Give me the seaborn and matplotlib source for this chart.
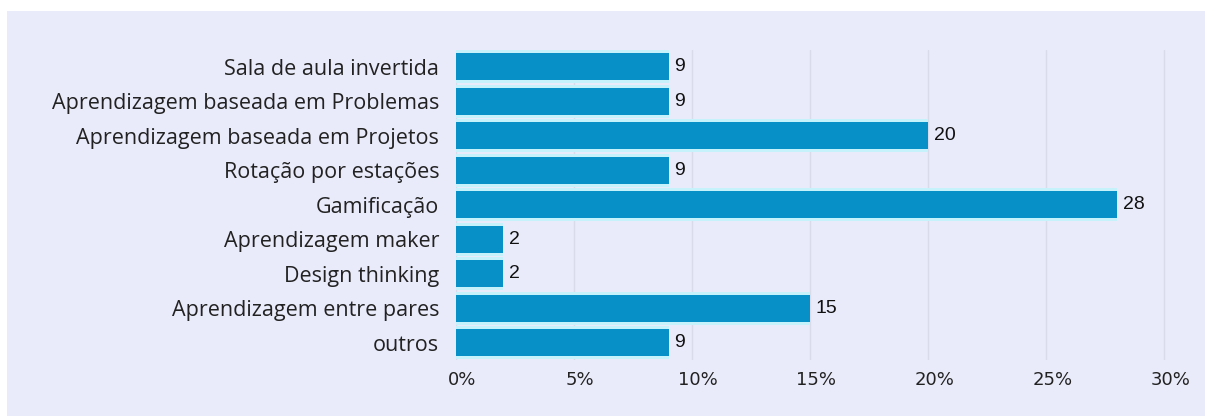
import matplotlib
matplotlib.use("Agg")
import matplotlib.pyplot as plt
import matplotlib.transforms as mtransforms
from matplotlib.patches import Rectangle
from matplotlib.ticker import FixedLocator, FuncFormatter
import seaborn as sns
import pandas as pd

# Metodologias ativas citadas (percentual de respostas)
metodologias = [
    "Sala de aula invertida",
    "Aprendizagem baseada em Problemas",
    "Aprendizagem baseada em Projetos",
    "Rotação por estações",
    "Gamificação",
    "Aprendizagem maker",
    "Design thinking",
    "Aprendizagem entre pares",
    "outros",
]
valores = [9, 9, 20, 9, 28, 2, 2, 15, 9]
ticks_x = [0, 5, 10, 15, 20, 25, 30]

W, H = 1205, 416
sns.set_theme(style="white")
plt.rcParams["font.family"] = ["Open Sans", "DejaVu Sans"]

fig = plt.figure(figsize=(W / 100, H / 100), dpi=100, facecolor="white")
# lavender panel behind the chart
fig.patches.append(Rectangle((7 / W, 0), 1 - 7 / W, (H - 11) / H,
                             transform=fig.transFigure, facecolor="#e9ebfa",
                             edgecolor="none", zorder=-10))

ax = fig.add_axes([456 / W, (H - 360) / H, 732 / W, (360 - 49.5) / H])
ax.set_facecolor("none")

df = pd.DataFrame({"metodologia": metodologias, "valor": valores})

# soft cyan halo behind each bar
sns.barplot(data=df, y="metodologia", x="valor", orient="h", color="#c6f2fb",
            width=0.96, saturation=1, linewidth=0, edgecolor="none",
            ax=ax, zorder=2)
# main bars
sns.barplot(data=df, y="metodologia", x="valor", orient="h", color="#0790c7",
            width=0.79, saturation=1, linewidth=0, edgecolor="none",
            ax=ax, zorder=3)

ax.bar_label(ax.containers[1], labels=[str(v) for v in valores], padding=4,
             fontsize=14, family="Liberation Sans", color="#111111")

ax.set_xlim(0, 31)
ax.set_ylim(len(metodologias) - 0.5, -0.5)
ax.xaxis.set_major_locator(FixedLocator(ticks_x))
ax.xaxis.set_major_formatter(FuncFormatter(lambda v, _: f"{v:.0f}%"))
ax.set_xlabel("")
ax.set_ylabel("")

ax.grid(axis="x", color="#d9dbea", linewidth=1)
ax.grid(axis="y", visible=False)
ax.set_axisbelow(True)
for s in ax.spines.values():
    s.set_visible(False)

ax.tick_params(axis="y", length=0, pad=12, labelsize=15.5, labelcolor="#222222")
ax.tick_params(axis="x", length=0, pad=8, labelsize=13, labelcolor="#222222")
offset = mtransforms.ScaledTranslation(6 / 100, 0, fig.dpi_scale_trans)
for lab in ax.get_xticklabels():
    lab.set_family("DejaVu Sans")
    lab.set_transform(lab.get_transform() + offset)

fig.savefig("out.png", dpi=100, facecolor="white")
